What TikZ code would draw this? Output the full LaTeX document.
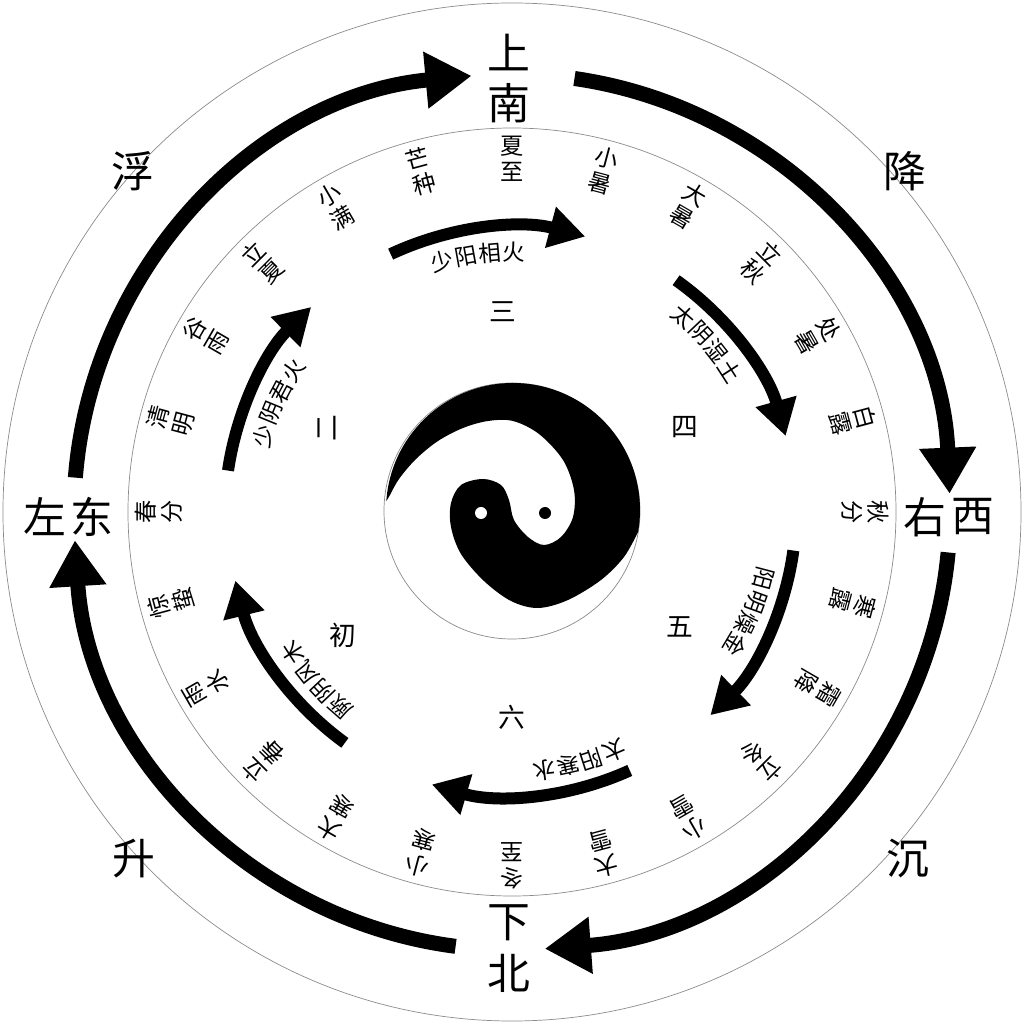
\documentclass[tikz,border=0pt]{standalone}
\usepackage{fontspec}
\setmainfont{Noto Sans CJK SC}
\usetikzlibrary{arrows.meta}
\begin{document}
\begin{tikzpicture}[x=0.25mm,y=0.25mm,
  thinring/.style={draw=black!45, line width=0.5pt},
  bigarrow/.style={line width=3.75mm, -{Triangle[length=11.5mm,width=13.5mm]}},
  smallarrow/.style={line width=3mm, -{Triangle[length=9mm,width=10mm]}},
  bigchar/.style={font=\fontsize{30.5}{30.5}\selectfont, inner sep=0pt},
  termchar/.style={font=\fontsize{16.5}{16.5}\selectfont, inner sep=0pt},
  qichar/.style={font=\fontsize{16}{16}\selectfont, inner sep=0pt},
  numchar/.style={font=\fontsize{19}{19}\selectfont, inner sep=0pt},
]
\useasboundingbox (-512,-512) rectangle (512,512);
\fill[white] (-512,-512) rectangle (512,512);

% rings
\draw[thinring] (0,0) circle[radius=509];
\draw[thinring] (0,0) circle[radius=384];

% outer arrows
\draw[bigarrow] (175.5:438) arc[start angle=175.5, end angle=95.3, radius=438];
\draw[bigarrow] (81.8:438) arc[start angle=81.8, end angle=2.4, radius=438];
\draw[bigarrow] (-5.3:438) arc[start angle=-5.3, end angle=-85.7, radius=438];
\draw[bigarrow] (-97.4:438) arc[start angle=-97.4, end angle=-176.3, radius=438];

% outer labels
\node[bigchar] (shang) at (-3,459) {上};
\node[bigchar] (nan)   at (-3,409) {南};
\node[bigchar] (zuo)   at (-467,-5) {左};
\node[bigchar] (dong)  at (-420,-5) {东};
\node[bigchar] (you)   at (413,-5) {右};
\node[bigchar] (xi)    at (461,-5) {西};
\node[bigchar] (xia)   at (-3,-411) {下};
\node[bigchar] (bei)   at (-3,-461) {北};
\node[bigchar] (fu)    at (-379,341) {浮};
\node[bigchar] (jiang) at (393,341) {降};
\node[bigchar] (sheng) at (-378,-347) {升};
\node[bigchar] (chen)  at (396,-347) {沉};

% solar terms
\foreach \a/\c/\d [count=\i] in {90/夏/至, 75/小/暑, 60/大/暑, 45/立/秋, 30/处/暑, 15/白/露,
  0/秋/分, -15/寒/露, -30/霜/降, -45/立/冬, -60/小/雪, -75/大/雪,
  -90/冬/至, -105/小/寒, -120/大/寒, -135/立/春, -150/雨/水, -165/惊/蛰,
  180/春/分, 165/清/明, 150/谷/雨, 135/立/夏, 120/小/满, 105/芒/种} {
  \node[termchar, rotate=\a-90] (ta\i) at (\a:366) {\c};
  \node[termchar, rotate=\a-90] (tb\i) at (\a:340) {\d};
}

% inner arrows
\draw[smallarrow] (115.2:285) arc[start angle=115.2, end angle=75.1, radius=285];
\draw[smallarrow] (54.7:284) arc[start angle=54.7, end angle=15.5, radius=284];
\draw[smallarrow] (-7.8:284) arc[start angle=-7.8, end angle=-45.7, radius=284];
\draw[smallarrow] (-65.5:284) arc[start angle=-65.5, end angle=-106.4, radius=284];
\draw[smallarrow] (234.1:285) arc[start angle=234.1, end angle=193.9, radius=285];
\draw[smallarrow] (171.7:287) arc[start angle=171.7, end angle=134.4, radius=287];

% inner arrow labels
\foreach \m/\l [count=\j] in {97.6/{少,阳,相,火}, 40.8/{太,阴,湿,土}, -22.8/{阳,明,燥,金},
  -74.8/{太,阳,寒,水}, -139.2/{厥,阴,风,木}, 155/{少,阴,君,火}} {
  \foreach \ch [count=\k] in \l {
    \pgfmathsetmacro\th{\m + (2.5-\k)*5.3}
    \node[qichar, rotate=\th-90] (q\j-\k) at (\th:260) {\ch};
  }
}

% six qi numbers
\node[numchar] (n3) at (-9,200) {三};
\node[numchar] (n4) at (173,85) {四};
\node[numchar] (n5) at (168,-115) {五};
\node[numchar] (n6) at (0,-205) {六};
\node[numchar] (n1) at (-169,-123) {初};
\node[numchar, rotate=90] (n2) at (-185,84) {二};

% taiji
\draw[thinring, fill=white] (0,1) circle[radius=128];
\begin{scope}[shift={(1,2)}]
\fill[black] (176:127) arc[start angle=176, end angle=-10, radius=127]
  -- plot[smooth, tension=0.55] coordinates {(125,-22) (111,-47) (88,-70) (55,-90) (25,-98)
    (-2,-91) (-29,-71) (-52,-44) (-62,-17) (-62,7) (-52,25) (-30,31) (-12,25) (-4,10)
    (1,-10) (15,-27) (31,-35) (48,-27) (60,-7) (61,20) (50,50) (26,76) (0,89) (-25,89)
    (-50,82) (-75,69) (-97,51) (-114,31) (-123,15) (-126.7,8.9)} -- cycle;
\fill[white] (-32,-3) circle[radius=6];
\fill[black] (32,-3) circle[radius=6];
\end{scope}
\end{tikzpicture}
\end{document}
